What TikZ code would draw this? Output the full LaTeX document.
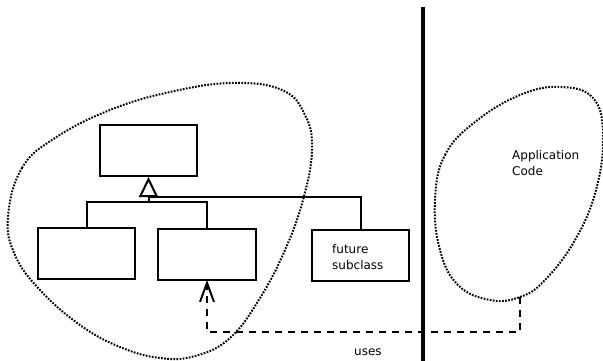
\documentclass[tikz,border=0pt]{standalone}
\usepackage{fontspec}
\setmainfont{DejaVu Sans}
\usetikzlibrary{arrows.meta}
\begin{document}
\begin{tikzpicture}[x=1pt,y=-1pt,
  cls/.style={draw=black, line width=2pt, minimum width=97pt, minimum height=51pt, inner sep=0pt, fill=white},
  blob/.style={draw=black, line width=2pt, dash pattern=on 1.7pt off 1.4pt},
  lbl/.style={font=\fontsize{12}{16}\selectfont, inner sep=0pt, align=left},
  inh/.style={draw=black, line width=2pt},
  uses/.style={draw=black, line width=2pt, dash pattern=on 7pt off 6pt},
  wall/.style={draw=black, line width=4pt}]
\useasboundingbox (0,0) rectangle (603,361);

% left blob
\draw[blob] plot[smooth cycle, tension=0.7] coordinates {
  (8,217) (22,168) (55,138) (110,110) (170,92) (232,83) (282,90) (305,115)
  (312,150) (303,200) (285,250) (260,298) (230,338) (195,356) (160,358)
  (120,347) (80,325) (40,290) (15,255)};

% right blob
\draw[blob] plot[smooth cycle, tension=0.7] coordinates {
  (435,200) (445,155) (475,122) (520,95) (560,87) (593,98) (603,135)
  (596,190) (575,240) (545,280) (520,297) (490,300) (458,285) (440,250)};
\coordinate (blobbot) at (520,297);

% wall
\coordinate (walltop) at (423,7);
\coordinate (wallbot) at (423,361);
\draw[wall] (walltop) -- (wallbot);

% classes
\node[cls] (base) at (148.5,150.5) {};
\node[cls] (sub1) at (86.5,253) {};
\node[cls, minimum width=98pt] (sub2) at (207,254.5) {};
\node[cls] (future) at (360.5,255.5) {};
\node[lbl, anchor=north west] at (332,244) {future\\subclass};

% inheritance
\coordinate (j) at (148.5,202);
\coordinate (jf) at (148.5,197);
\draw[inh] (sub1.north) |- (j) -| (sub2.north);
\draw[inh] (future.north) |- (jf);
\draw[inh, -{Triangle[open, length=20pt, width=19pt, line width=2pt]}] (j) -- (base.south);

% application code
\node[lbl, anchor=north west] (app) at (512,150) {Application\\Code};

% uses
\coordinate (u) at (207,332);
\draw[uses, -{Straight Barb[length=19pt, width=14pt, line width=2pt]}] (blobbot) |- (u) -- ([yshift=1pt]sub2.south);
\node[lbl, anchor=base west] (usestxt) at (354,355) {uses};
\end{tikzpicture}
\end{document}
